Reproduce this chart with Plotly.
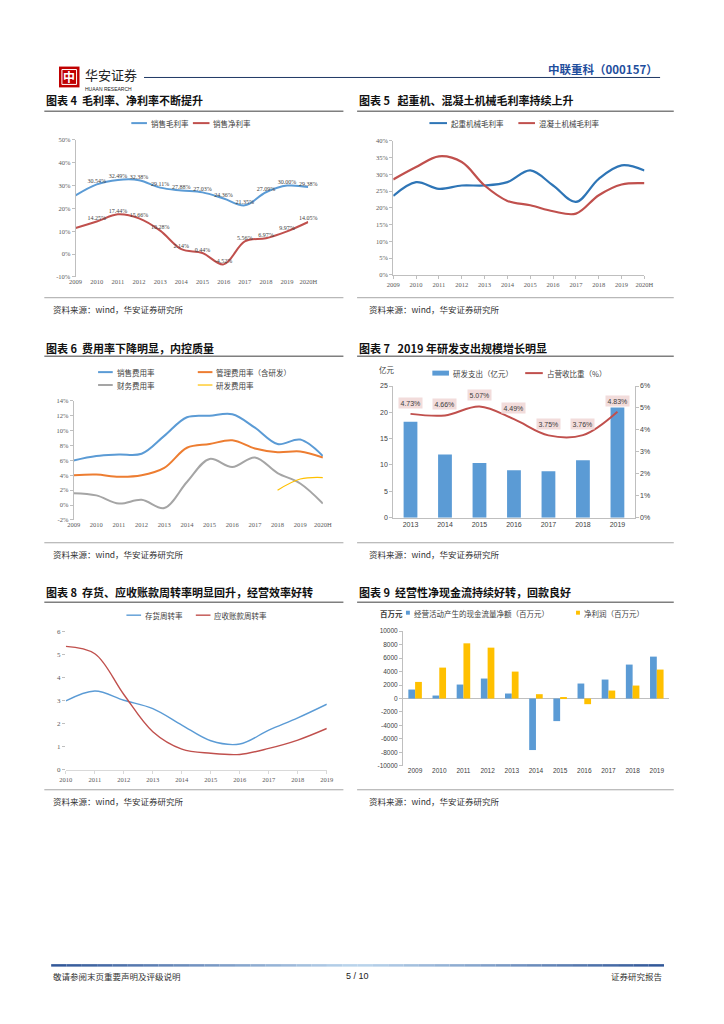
import plotly.graph_objects as go

# page body keeps its default 8px margin, so the figure is sized to the remaining area
OFF = 8
W, H = 724 - 2 * OFF, 1024 - 2 * OFF
def X(p): return (p - OFF) / W
def Y(p): return 1 - (p - OFF) / H

CJK = "Noto Sans CJK SC"
SERIF = "Liberation Serif"
SANS = "Liberation Sans"
AX = "#595959"
LN = "#BFBFBF"

# ---------------- data ----------------
years_a = ['2009', '2010', '2011', '2012', '2013', '2014', '2015', '2016', '2017', '2018', '2019', '2020H']
gross_margin = [25.7, 30.54, 32.49, 32.38, 29.11, 27.88, 27.03, 24.36, 21.35, 27.09, 30.00, 29.38]
net_margin = [11.4, 14.25, 17.44, 15.66, 10.28, 2.14, 0.44, -4.52, 5.56, 6.97, 9.97, 14.05]

crane_margin = [23.6, 27.7, 25.7, 26.7, 26.7, 27.7, 31.2, 26.7, 21.8, 28.7, 32.7, 31.2]
concrete_margin = [28.5, 32.2, 35.4, 33.7, 26.7, 22.1, 20.8, 19.0, 18.3, 23.8, 27.0, 27.4]

selling_rate = [6.0, 6.6, 6.8, 6.9, 9.3, 11.8, 12.0, 12.2, 10.4, 8.2, 8.8, 6.6]
admin_rate = [4.0, 4.1, 3.8, 4.0, 5.0, 7.7, 8.2, 8.7, 7.6, 7.1, 7.2, 6.4]
finance_rate = [1.6, 1.3, 0.2, 0.7, -0.4, 3.1, 6.2, 5.1, 6.4, 4.3, 2.9, 0.2]
rd_rate_years = ['2018', '2019', '2020H']
rd_rate = [2.0, 3.5, 3.7]

years_rd = ['2013', '2014', '2015', '2016', '2017', '2018', '2019']
rd_spend = [18.2, 12.0, 10.4, 9.0, 8.8, 10.9, 20.9]
rd_share = [4.73, 4.66, 5.07, 4.49, 3.75, 3.76, 4.83]

years_turn = ['2010', '2011', '2012', '2013', '2014', '2015', '2016', '2017', '2018', '2019']
inventory_turn = [2.98, 3.41, 3.01, 2.65, 1.94, 1.26, 1.12, 1.72, 2.25, 2.84]
receivable_turn = [5.34, 5.02, 3.26, 1.65, 0.90, 0.72, 0.67, 0.93, 1.29, 1.79]

years_cf = ['2009', '2010', '2011', '2012', '2013', '2014', '2015', '2016', '2017', '2018', '2019']
op_cashflow = [1330, 440, 2070, 2960, 740, -7640, -3350, 2220, 2810, 5030, 6210]
net_profit = [2460, 4580, 8180, 7540, 3990, 640, 150, -840, 1180, 1920, 4290]

ticks_4 = [-10, 0, 10, 20, 30, 40, 50]
ticks_5 = [0, 5, 10, 15, 20, 25, 30, 35, 40]
ticks_6 = [-2, 0, 2, 4, 6, 8, 10, 12, 14]
ticks_7L = [0, 5, 10, 15, 20, 25]
ticks_7R = [0, 1, 2, 3, 4, 5, 6]
ticks_8 = [0, 1, 2, 3, 4, 5, 6]
ticks_9 = list(range(-10000, 10001, 2000))

# ---------------- figure ----------------
fig = go.Figure()
idx_a = list(range(len(years_a)))

def spl(color, width):
    return dict(color=color, width=width, shape='spline', smoothing=1.0)

# Chart 4
fig.add_trace(go.Scatter(x=idx_a, y=gross_margin, mode='lines+text', line=spl('#5B9BD5', 2),
                         text=[''] + [f"{v:.2f}%" for v in gross_margin[1:]], textposition='top center',
                         textfont=dict(family=SERIF, size=6, color='#404040'), cliponaxis=False,
                         xaxis='x', yaxis='y', showlegend=False))
fig.add_trace(go.Scatter(x=idx_a, y=net_margin, mode='lines+text', line=spl('#C0504D', 2),
                         text=[''] + [f"{v:.2f}%" for v in net_margin[1:]], textposition='top center',
                         textfont=dict(family=SERIF, size=6, color='#404040'), cliponaxis=False,
                         xaxis='x', yaxis='y', showlegend=False))
# Chart 5
fig.add_trace(go.Scatter(x=idx_a, y=crane_margin, mode='lines', line=spl('#2E75B6', 2.2),
                         xaxis='x2', yaxis='y2', showlegend=False))
fig.add_trace(go.Scatter(x=idx_a, y=concrete_margin, mode='lines', line=spl('#C0504D', 2.2),
                         xaxis='x2', yaxis='y2', showlegend=False))
# Chart 6
fig.add_trace(go.Scatter(x=idx_a, y=selling_rate, mode='lines', line=spl('#5B9BD5', 2),
                         xaxis='x3', yaxis='y3', showlegend=False))
fig.add_trace(go.Scatter(x=idx_a, y=admin_rate, mode='lines', line=spl('#ED7D31', 2),
                         xaxis='x3', yaxis='y3', showlegend=False))
fig.add_trace(go.Scatter(x=idx_a, y=finance_rate, mode='lines', line=spl('#A5A5A5', 2),
                         xaxis='x3', yaxis='y3', showlegend=False))
fig.add_trace(go.Scatter(x=[years_a.index(y) for y in rd_rate_years], y=rd_rate, mode='lines',
                         line=spl('#FFC000', 1.2), xaxis='x3', yaxis='y3', showlegend=False))
# Chart 7
idx_rd = list(range(len(years_rd)))
fig.add_trace(go.Bar(x=idx_rd, y=rd_spend, width=0.4, marker=dict(color='#5B9BD5', line=dict(width=0)),
                     xaxis='x4', yaxis='y4', showlegend=False))
fig.add_trace(go.Scatter(x=idx_rd, y=rd_share, mode='lines', line=spl('#C0504D', 2),
                         xaxis='x4', yaxis='y5', showlegend=False))
# Chart 8
idx_t = list(range(len(years_turn)))
fig.add_trace(go.Scatter(x=idx_t, y=inventory_turn, mode='lines', line=spl('#5B9BD5', 1.4),
                         xaxis='x5', yaxis='y6', showlegend=False))
fig.add_trace(go.Scatter(x=idx_t, y=receivable_turn, mode='lines', line=spl('#C0504D', 1.4),
                         xaxis='x5', yaxis='y6', showlegend=False))
# Chart 9
idx_c = list(range(len(years_cf)))
fig.add_trace(go.Bar(x=idx_c, y=op_cashflow, width=0.28, offset=-0.28,
                     marker=dict(color='#5B9BD5', line=dict(width=0)), xaxis='x6', yaxis='y7', showlegend=False))
fig.add_trace(go.Bar(x=idx_c, y=net_profit, width=0.28, offset=0.0,
                     marker=dict(color='#FFC000', line=dict(width=0)), xaxis='x6', yaxis='y7', showlegend=False))

tf_serif = dict(family=SERIF, size=6.5, color=AX)
tf_sans = dict(family=SANS, size=7, color='#404040')

def xa(dom, rng, vals, text, anchor, font, showline=False, ticks='', lc=LN):
    return dict(domain=[X(dom[0]), X(dom[1])], range=rng, tickvals=vals, ticktext=text, anchor=anchor,
                showline=showline, linecolor=lc, linewidth=1, ticks=ticks, ticklen=3, tickcolor=lc,
                showgrid=False, zeroline=False, tickfont=font, fixedrange=True)

def ya(dom, rng, vals, text, anchor, font, showline=True, side='left', overlaying=None, zeroline=False):
    d = dict(domain=[Y(dom[0]), Y(dom[1])], range=rng, tickvals=vals, ticktext=text, anchor=anchor,
             showline=showline, linecolor=LN, linewidth=1, ticks='outside', ticklen=3, tickcolor=LN,
             showgrid=False, zeroline=zeroline, zerolinecolor=LN, zerolinewidth=1, tickfont=font,
             side=side, fixedrange=True)
    if overlaying:
        d['overlaying'] = overlaying
        d.pop('domain')
    return d

layout = dict(
    width=W, height=H, margin=dict(l=0, r=0, t=0, b=0), autosize=False,
    paper_bgcolor='white', plot_bgcolor='rgba(0,0,0,0)', barmode='overlay', showlegend=False,
    xaxis=xa((70, 308), [0, 11], idx_a, years_a, 'y', tf_serif),
    yaxis=ya((275, 137), [-10, 50], ticks_4, [f"{v}%" for v in ticks_4], 'x', tf_serif),
    xaxis2=xa((395, 652), [0, 11], idx_a, years_a, 'y2', tf_serif, showline=True, ticks='outside'),
    yaxis2=ya((273, 138), [0, 40], ticks_5, [f"{v}%" for v in ticks_5], 'x2', tf_serif),
    xaxis3=xa((68, 323), [0, 11], idx_a, years_a, 'y3', tf_serif),
    yaxis3=ya((520, 400), [-2, 14], ticks_6, [f"{v}%" for v in ticks_6], 'x3', tf_serif),
    xaxis4=xa((395, 642), [-0.5, 6.5], idx_rd, years_rd, 'y4', tf_sans, showline=True),
    yaxis4=ya((517.7, 385), [0, 25], ticks_7L, [str(v) for v in ticks_7L], 'x4', tf_sans),
    yaxis5=ya((517.7, 385), [0, 6], ticks_7R, [f"{v}%" for v in ticks_7R], 'x4', tf_sans,
              side='right', overlaying='y4'),
    xaxis5=xa((60, 327), [0, 9], idx_t, years_turn, 'y6', tf_serif, showline=True, ticks='outside', lc='#D9D9D9'),
    yaxis6=ya((772, 632), [0, 6], ticks_8, [str(v) for v in ticks_8], 'x5', dict(family=SERIF, size=7, color=AX),
              showline=False),
    xaxis6=xa((405, 677), [-0.5, 10.5], idx_c, years_cf, 'y7', dict(family=SANS, size=6.5, color='#404040')),
    yaxis7=ya((768, 632), [-10000, 10000], ticks_9, [str(v) for v in ticks_9], 'x6',
              dict(family=SANS, size=6.5, color='#404040'), zeroline=True),
)
fig.update_layout(**layout)

ann = []
shapes = []

def text(x, y, t, size=8, color='#404040', anchor='left', family=CJK, bold=False):
    ann.append(dict(x=X(x), y=Y(y), xref='paper', yref='paper', text=(f"<b>{t}</b>" if bold else t),
                    showarrow=False, xanchor=anchor, yanchor='middle',
                    font=dict(family=family, size=size, color=color)))

def hline(x0, x1, y, color, width=1):
    shapes.append(dict(type='line', xref='paper', yref='paper', x0=X(x0), x1=X(x1), y0=Y(y), y1=Y(y),
                       line=dict(color=color, width=width)))

def rect(x0, y0, x1, y1, color, line=None):
    shapes.append(dict(type='rect', xref='paper', yref='paper', x0=X(x0), x1=X(x1), y0=Y(y1), y1=Y(y0),
                       fillcolor=color, line=dict(width=0) if line is None else line))

# Header
rect(53, 63, 74, 84, '#C00000')
shapes.append(dict(type='rect', xref='paper', yref='paper', x0=X(56), x1=X(71), y0=Y(81), y1=Y(66),
                   line=dict(color='white', width=1)))
text(63.5, 73.5, '中', size=12, color='white', anchor='center', bold=True)
text(78, 71, '华安证券', size=13, color='#222222', family=CJK)
text(78, 86, 'HUAAN RESEARCH', size=5, color='#222222', family=SANS)
hline(140, 668, 74, '#1F3864', 1)
text(668, 65, '中联重科（000157）', size=11.5, color='#1F4E9D', anchor='right', bold=True)

# Section titles, rules and sources
rows = [(97, 108, 296, 307), (347, 355, 543, 554), (593, 603, 792, 803)]
titles = [('图表 4  毛利率、净利率不断提升', '图表 5   起重机、混凝土机械毛利率持续上升'),
          ('图表 6  费用率下降明显，内控质量', '图表 7   2019 年研发支出规模增长明显'),
          ('图表 8  存货、应收账款周转率明显回升，经营效率好转', '图表 9  经营性净现金流持续好转，回款良好')]
for (ty, ly, sy, sty), (t1, t2) in zip(rows, titles):
    text(38, ty, t1, size=11, color='#111111', bold=True)
    text(358, ty, t2, size=11, color='#111111', bold=True)
    hline(38, 344, ly, '#7F7F7F', 1.5)
    hline(358, 682, ly, '#7F7F7F', 1.5)
    hline(38, 344, sy, '#A6A6A6', 1)
    hline(358, 682, sy, '#A6A6A6', 1)
    text(45, sty, '资料来源：wind，华安证券研究所', size=8.5, color='#333333')
    text(368, sty, '资料来源：wind，华安证券研究所', size=8.5, color='#333333')

# Legends
def leg_line(x0, x1, y, color, width, label, size=7.5):
    hline(x0, x1, y, color, width)
    text(x1 + 2, y, label, size=size, color='#404040')

leg_line(127, 143, 120, '#5B9BD5', 2, '销售毛利率')
leg_line(190, 207, 120, '#C0504D', 2, '销售净利率')
leg_line(432, 450, 120, '#2E75B6', 2, '起重机械毛利率')
leg_line(523, 540, 120, '#C0504D', 2, '混凝土机械毛利率')
leg_line(93, 108, 371, '#5B9BD5', 2, '销售费用率')
leg_line(195, 210, 371, '#ED7D31', 2, '管理费用率（含研发）')
leg_line(93, 108, 384, '#A5A5A5', 2, '财务费用率')
leg_line(195, 210, 384, '#FFC000', 1.2, '研发费用率')
rect(435, 369.5, 452, 374.5, '#5B9BD5')
text(454, 372, '研发支出（亿元）', size=7.5)
leg_line(530, 548, 372, '#C0504D', 2, '占营收比重（%）')
text(378, 368, '亿元', size=7.5, color='#404040')
leg_line(122, 137, 616, '#5B9BD5', 1.4, '存货周转率')
leg_line(193, 208, 616, '#C0504D', 1.4, '应收账款周转率')
text(379, 614, '<b>百万元</b>', size=7.5, color='#404040')
rect(408, 611.5, 412, 615.5, '#5B9BD5')
text(414, 614, '经营活动产生的现金流量净额（百万元）', size=7.5)
rect(582, 611.5, 586, 615.5, '#FFC000')
text(588, 614, '净利润（百万元）', size=7.5)

# Chart 7 data labels
for i, v in enumerate(rd_share):
    ann.append(dict(x=i, y=v, xref='x4', yref='y5', text=f"{v:.2f}%", showarrow=False, yshift=11,
                    bgcolor='#F2DCDB', borderpad=1.5, font=dict(family=SANS, size=7, color='#404040')))

# Footer gradient rule
n = 40
c_edge = (0x2F, 0x55, 0x97)
c_mid = (0xBD, 0xD7, 0xEE)
x0, x1 = 45, 672
for k in range(n):
    t = (k + 0.5) / n
    f = 1 - abs(t - 0.5) * 2
    c = tuple(int(c_edge[j] + (c_mid[j] - c_edge[j]) * f) for j in range(3))
    shapes.append(dict(type='line', xref='paper', yref='paper',
                       x0=X(x0 + (x1 - x0) * k / n), x1=X(x0 + (x1 - x0) * (k + 1) / n),
                       y0=Y(969), y1=Y(969), line=dict(color='rgb(%d,%d,%d)' % c, width=2.5)))
text(45, 980, '敬请参阅末页重要声明及评级说明', size=8.5, color='#333333')
text(358, 980, '5 / 10', size=9, color='#222222', anchor='center', family=SANS)
text(672, 980, '证券研究报告', size=8.5, color='#333333', anchor='right')

fig.update_layout(annotations=ann, shapes=shapes)
fig.write_html("out.html")
